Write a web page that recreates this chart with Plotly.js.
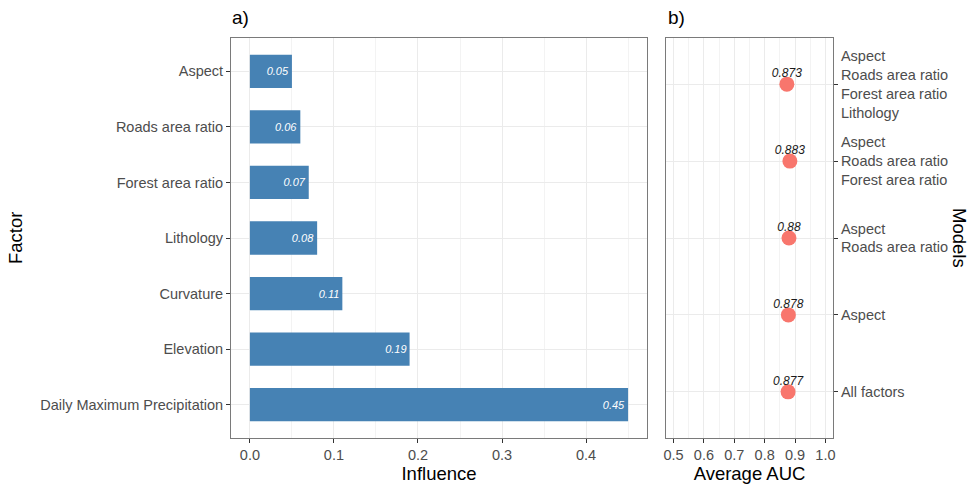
<!DOCTYPE html>
<html>
<head>
<meta charset="utf-8">
<script src="https://cdn.plot.ly/plotly-3.0.1.min.js"></script>
<style>html,body{margin:0;padding:0;background:#fff}#chart{width:972px;height:485px}</style>
</head>
<body>
<div id="chart"></div>
<script>
// Panel a data (bottom to top)
const factors = ["Daily Maximum Precipitation", "Elevation", "Curvature", "Lithology", "Forest area ratio", "Roads area ratio", "Aspect"];
const influence = [0.45, 0.19, 0.11, 0.08, 0.07, 0.06, 0.05];
const influenceLabels = ["0.45", "0.19", "0.11", "0.08", "0.07", "0.06", "0.05"];

// Panel b data (bottom to top)
const models = [
  "All factors",
  "Aspect",
  "Aspect<br>Roads area ratio",
  "Aspect<br>Roads area ratio<br>Forest area ratio",
  "Aspect<br>Roads area ratio<br>Forest area ratio<br>Lithology"
];
const auc = [0.877, 0.878, 0.88, 0.883, 0.873];
const aucLabels = ["0.877", "0.878", "0.88", "0.883", "0.873"];

const FAM = "Liberation Sans, Arial, sans-serif";
const tickFont = {family: FAM, size: 14.5, color: "#4D4D4D"};
const titleFont = {family: FAM, size: 18.5, color: "#000"};
const W = 972, H = 485;
const px = v => v / W, py = v => 1 - v / H;

const traces = [
  {
    type: "bar", orientation: "h",
    x: influence, y: factors,
    xaxis: "x", yaxis: "y",
    width: 0.6,
    marker: {color: "#4682B4", line: {width: 0}},
    text: influenceLabels,
    textposition: "inside", insidetextanchor: "end",
    constraintext: "none",
    textfont: {family: FAM, size: 11, color: "#fff", style: "italic"},
    hoverinfo: "skip"
  },
  {
    type: "scatter", mode: "markers",
    x: auc, y: models,
    xaxis: "x2", yaxis: "y2",
    marker: {color: "#F8766D", size: 15, line: {width: 0}},
    cliponaxis: false,
    hoverinfo: "skip"
  },
  {
    type: "scatter", mode: "markers+text",
    x: auc, y: models,
    xaxis: "x2", yaxis: "y2",
    marker: {size: 5, opacity: 0, color: "#fff"},
    text: aucLabels, textposition: "top center",
    textfont: {family: FAM, size: 12, color: "#1a1a1a", style: "italic"},
    cliponaxis: false,
    hoverinfo: "skip"
  }
];

const axisCommon = {
  showline: true, linecolor: "#7a7a7a", linewidth: 1, mirror: true,
  ticks: "outside", ticklen: 4, tickcolor: "#333", tickwidth: 1,
  gridcolor: "#EBEBEB", gridwidth: 1, zeroline: false,
  tickfont: tickFont, automargin: false, fixedrange: true
};

const layout = {
  width: W, height: H,
  margin: {l: 0, r: 0, t: 0, b: 0},
  paper_bgcolor: "#fff", plot_bgcolor: "#fff",
  showlegend: false,
  font: {family: FAM},
  xaxis: Object.assign({}, axisCommon, {
    domain: [px(231), px(647)], anchor: "y",
    range: [-0.0225, 0.4725], tickvals: [0, 0.1, 0.2, 0.3, 0.4],
    ticktext: ["0.0", "0.1", "0.2", "0.3", "0.4"],
    minor: {tickvals: [0.05, 0.15, 0.25, 0.35, 0.45], showgrid: true, gridcolor: "#F3F3F3", gridwidth: 1, ticks: ""},
    title: {text: "Influence", font: titleFont, standoff: 0}
  }),
  yaxis: Object.assign({}, axisCommon, {
    domain: [py(438), py(38)], anchor: "x",
    type: "category", categoryorder: "array", categoryarray: factors,
    range: [-0.6, 6.6]
  }),
  xaxis2: Object.assign({}, axisCommon, {
    domain: [px(666), px(833)], anchor: "y2",
    range: [0.475, 1.025], tickvals: [0.5, 0.6, 0.7, 0.8, 0.9, 1.0],
    ticktext: ["0.5", "0.6", "0.7", "0.8", "0.9", "1.0"],
    minor: {tickvals: [0.55, 0.65, 0.75, 0.85, 0.95], showgrid: true, gridcolor: "#F3F3F3", gridwidth: 1, ticks: ""},
    title: {text: "Average AUC", font: titleFont, standoff: 0}
  }),
  yaxis2: Object.assign({}, axisCommon, {
    domain: [py(438), py(38)], anchor: "x2", side: "right",
    type: "category", categoryorder: "array", categoryarray: models,
    range: [-0.6, 4.6]
  }),
  annotations: [
    {text: "a)", xref: "paper", yref: "paper", x: px(230), y: py(18), xanchor: "left", yanchor: "middle",
     showarrow: false, font: {family: FAM, size: 19, color: "#000"}},
    {text: "b)", xref: "paper", yref: "paper", x: px(666), y: py(18), xanchor: "left", yanchor: "middle",
     showarrow: false, font: {family: FAM, size: 19, color: "#000"}},
    {text: "Factor", xref: "paper", yref: "paper", x: px(15), y: py(238), xanchor: "center", yanchor: "middle",
     textangle: -90, showarrow: false, font: titleFont},
    {text: "Models", xref: "paper", yref: "paper", x: px(960), y: py(238), xanchor: "center", yanchor: "middle",
     textangle: 90, showarrow: false, font: titleFont}
  ]
};

Plotly.newPlot("chart", traces, layout, {staticPlot: true, displayModeBar: false});
</script>
</body>
</html>
